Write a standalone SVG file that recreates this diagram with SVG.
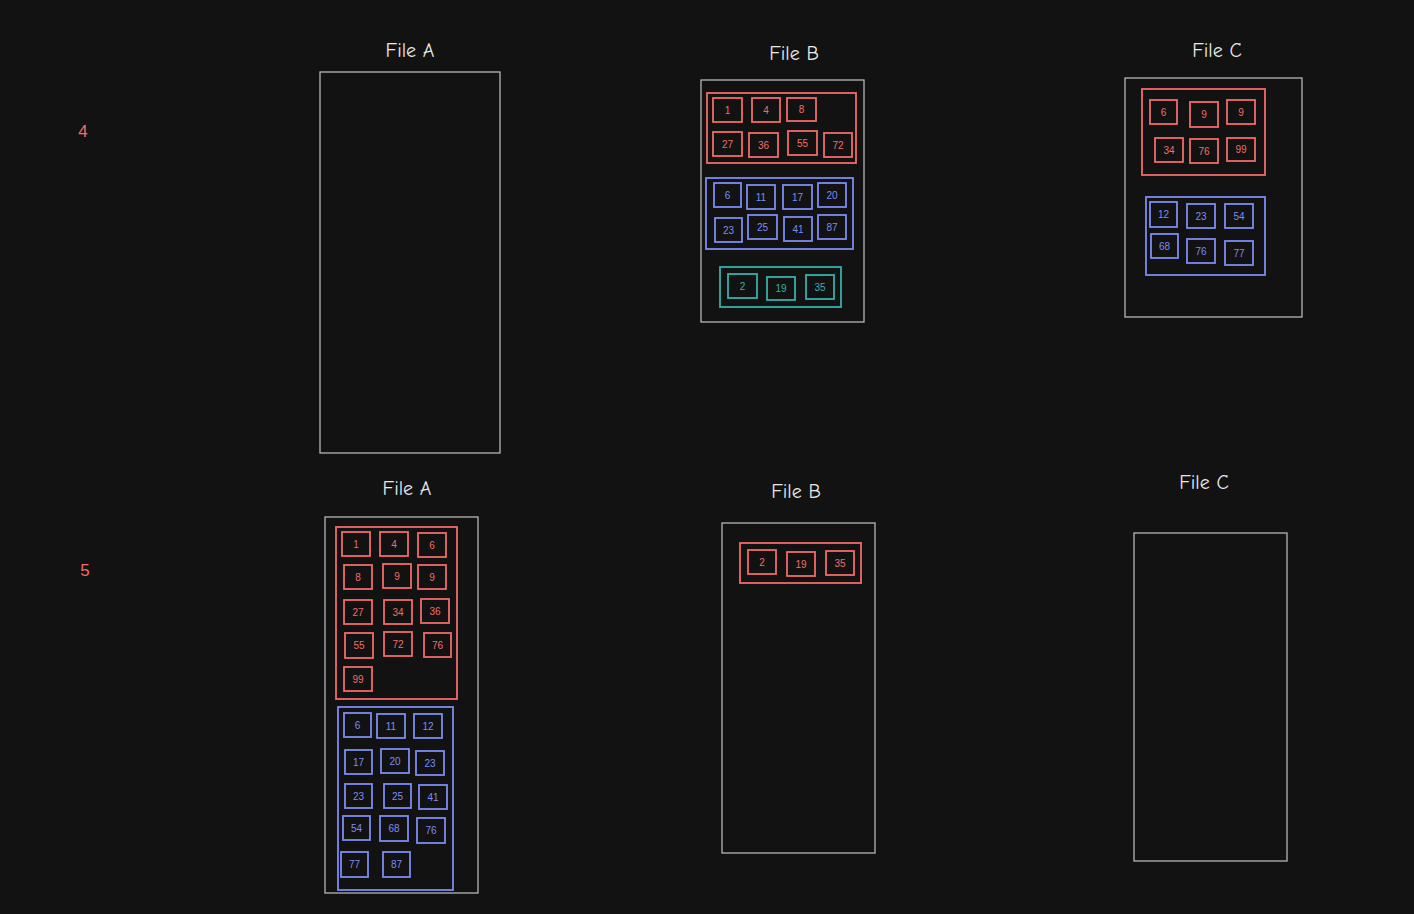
<svg xmlns="http://www.w3.org/2000/svg" width="1414" height="914" viewBox="0 0 1414 914">
<style>
.bg{fill:#121212}
.file{fill:none;stroke:#b5b5b5;stroke-width:1.3}
.title{fill:#e8e8e8;font-family:"Comic Neue","Liberation Sans",sans-serif;font-size:20px;text-anchor:middle}
.row{fill:#f26b6b;font-family:"Liberation Sans",sans-serif;font-size:17px;text-anchor:middle}
.r rect{fill:none;stroke:#f26b6b;stroke-width:1.8}
.b rect{fill:none;stroke:#7d8cf2;stroke-width:1.8}
.t rect{fill:none;stroke:#36b0aa;stroke-width:1.8}
.r text{fill:#f26b6b}
.b text{fill:#7d8cf2}
.t text{fill:#36b0aa}
text.n{font-family:"Liberation Sans",sans-serif;font-size:10px;text-anchor:middle;dominant-baseline:central}
</style>
<rect class="bg" x="0" y="0" width="1414" height="914"/>

<text class="row" x="83" y="137">4</text>
<text class="row" x="85" y="576">5</text>

<!-- Row 4 -->
<g id="fileA4">
<text class="title" x="410" y="57">File A</text>
<rect class="file" x="320" y="72" width="180" height="381"/>
</g>

<g id="fileB4">
<text class="title" x="794" y="60">File B</text>
<rect class="file" x="701" y="80" width="163" height="242"/>
<g id="fileB4-red" class="r">
<rect x="707" y="93" width="149" height="70"/>
<g><rect x="713" y="98" width="29" height="24"/><text class="n" x="727.5" y="110">1</text></g>
<g><rect x="752" y="98" width="28" height="24"/><text class="n" x="766" y="110">4</text></g>
<g><rect x="787" y="98" width="29" height="23"/><text class="n" x="801.5" y="109.5">8</text></g>
<g><rect x="713" y="132" width="29" height="24"/><text class="n" x="727.5" y="144">27</text></g>
<g><rect x="749" y="133" width="29" height="24"/><text class="n" x="763.5" y="145">36</text></g>
<g><rect x="788" y="131" width="29" height="24"/><text class="n" x="802.5" y="143">55</text></g>
<g><rect x="824" y="133" width="28" height="24"/><text class="n" x="838" y="145">72</text></g>
</g>
<g id="fileB4-blue" class="b">
<rect x="706" y="178" width="147" height="71"/>
<g><rect x="714" y="183" width="27" height="24"/><text class="n" x="727.5" y="195">6</text></g>
<g><rect x="747" y="185" width="28" height="24"/><text class="n" x="761" y="197">11</text></g>
<g><rect x="783" y="185" width="29" height="24"/><text class="n" x="797.5" y="197">17</text></g>
<g><rect x="818" y="183" width="28" height="24"/><text class="n" x="832" y="195">20</text></g>
<g><rect x="715" y="218" width="27" height="24"/><text class="n" x="728.5" y="230">23</text></g>
<g><rect x="748" y="215" width="29" height="24"/><text class="n" x="762.5" y="227">25</text></g>
<g><rect x="784" y="217" width="28" height="24"/><text class="n" x="798" y="229">41</text></g>
<g><rect x="818" y="215" width="28" height="24"/><text class="n" x="832" y="227">87</text></g>
</g>
<g id="fileB4-teal" class="t">
<rect x="720" y="267" width="121" height="40"/>
<g><rect x="728" y="274" width="29" height="24"/><text class="n" x="742.5" y="286">2</text></g>
<g><rect x="767" y="277" width="28" height="23"/><text class="n" x="781" y="288.5">19</text></g>
<g><rect x="806" y="275" width="28" height="24"/><text class="n" x="820" y="287">35</text></g>
</g>
</g>

<g id="fileC4">
<text class="title" x="1217" y="57">File C</text>
<rect class="file" x="1125" y="78" width="177" height="239"/>
<g id="fileC4-red" class="r">
<rect x="1142" y="89" width="123" height="86"/>
<g><rect x="1150" y="100" width="27" height="24"/><text class="n" x="1163.5" y="112">6</text></g>
<g><rect x="1190" y="102" width="28" height="25"/><text class="n" x="1204" y="114.5">9</text></g>
<g><rect x="1227" y="100" width="28" height="24"/><text class="n" x="1241" y="112">9</text></g>
<g><rect x="1155" y="138" width="28" height="24"/><text class="n" x="1169" y="150">34</text></g>
<g><rect x="1190" y="139" width="28" height="24"/><text class="n" x="1204" y="151">76</text></g>
<g><rect x="1227" y="138" width="28" height="23"/><text class="n" x="1241" y="149.5">99</text></g>
</g>
<g id="fileC4-blue" class="b">
<rect x="1146" y="197" width="119" height="78"/>
<g><rect x="1150" y="202" width="27" height="25"/><text class="n" x="1163.5" y="214.5">12</text></g>
<g><rect x="1187" y="204" width="28" height="24"/><text class="n" x="1201" y="216">23</text></g>
<g><rect x="1225" y="204" width="28" height="24"/><text class="n" x="1239" y="216">54</text></g>
<g><rect x="1151" y="234" width="27" height="24"/><text class="n" x="1164.5" y="246">68</text></g>
<g><rect x="1187" y="239" width="28" height="24"/><text class="n" x="1201" y="251">76</text></g>
<g><rect x="1225" y="241" width="28" height="24"/><text class="n" x="1239" y="253">77</text></g>
</g>
</g>

<!-- Row 5 -->
<g id="fileA5">
<text class="title" x="407" y="495">File A</text>
<rect class="file" x="325" y="517" width="153" height="376"/>
<g id="fileA5-red" class="r">
<rect x="336" y="527" width="121" height="172"/>
<g><rect x="342" y="532" width="28" height="24"/><text class="n" x="356" y="544">1</text></g>
<g><rect x="380" y="532" width="28" height="24"/><text class="n" x="394" y="544">4</text></g>
<g><rect x="418" y="533" width="28" height="24"/><text class="n" x="432" y="545">6</text></g>
<g><rect x="344" y="565" width="28" height="24"/><text class="n" x="358" y="577">8</text></g>
<g><rect x="383" y="564" width="28" height="24"/><text class="n" x="397" y="576">9</text></g>
<g><rect x="418" y="565" width="28" height="24"/><text class="n" x="432" y="577">9</text></g>
<g><rect x="344" y="600" width="28" height="24"/><text class="n" x="358" y="612">27</text></g>
<g><rect x="384" y="600" width="28" height="24"/><text class="n" x="398" y="612">34</text></g>
<g><rect x="421" y="599" width="28" height="24"/><text class="n" x="435" y="611">36</text></g>
<g><rect x="345" y="633" width="28" height="25"/><text class="n" x="359" y="645.5">55</text></g>
<g><rect x="384" y="632" width="28" height="24"/><text class="n" x="398" y="644">72</text></g>
<g><rect x="424" y="633" width="27" height="24"/><text class="n" x="437.5" y="645">76</text></g>
<g><rect x="344" y="667" width="28" height="24"/><text class="n" x="358" y="679">99</text></g>
</g>
<g id="fileA5-blue" class="b">
<rect x="338" y="707" width="115" height="183"/>
<g><rect x="344" y="713" width="27" height="24"/><text class="n" x="357.5" y="725">6</text></g>
<g><rect x="377" y="714" width="28" height="24"/><text class="n" x="391" y="726">11</text></g>
<g><rect x="414" y="714" width="28" height="24"/><text class="n" x="428" y="726">12</text></g>
<g><rect x="345" y="750" width="27" height="24"/><text class="n" x="358.5" y="762">17</text></g>
<g><rect x="381" y="749" width="28" height="24"/><text class="n" x="395" y="761">20</text></g>
<g><rect x="416" y="751" width="28" height="24"/><text class="n" x="430" y="763">23</text></g>
<g><rect x="345" y="784" width="27" height="24"/><text class="n" x="358.5" y="796">23</text></g>
<g><rect x="384" y="784" width="27" height="24"/><text class="n" x="397.5" y="796">25</text></g>
<g><rect x="419" y="785" width="28" height="24"/><text class="n" x="433" y="797">41</text></g>
<g><rect x="343" y="816" width="27" height="24"/><text class="n" x="356.5" y="828">54</text></g>
<g><rect x="380" y="816" width="28" height="25"/><text class="n" x="394" y="828.5">68</text></g>
<g><rect x="417" y="818" width="28" height="25"/><text class="n" x="431" y="830.5">76</text></g>
<g><rect x="341" y="852" width="27" height="25"/><text class="n" x="354.5" y="864.5">77</text></g>
<g><rect x="383" y="852" width="27" height="25"/><text class="n" x="396.5" y="864.5">87</text></g>
</g>
</g>

<g id="fileB5">
<text class="title" x="796" y="498">File B</text>
<rect class="file" x="722" y="523" width="153" height="330"/>
<g id="fileB5-red" class="r">
<rect x="740" y="543" width="121" height="40"/>
<g><rect x="748" y="550" width="28" height="24"/><text class="n" x="762" y="562">2</text></g>
<g><rect x="787" y="552" width="28" height="24"/><text class="n" x="801" y="564">19</text></g>
<g><rect x="826" y="551" width="28" height="24"/><text class="n" x="840" y="563">35</text></g>
</g>
</g>

<g id="fileC5">
<text class="title" x="1204" y="489">File C</text>
<rect class="file" x="1134" y="533" width="153" height="328"/>
</g>

<g id="connectors"></g>
</svg>
